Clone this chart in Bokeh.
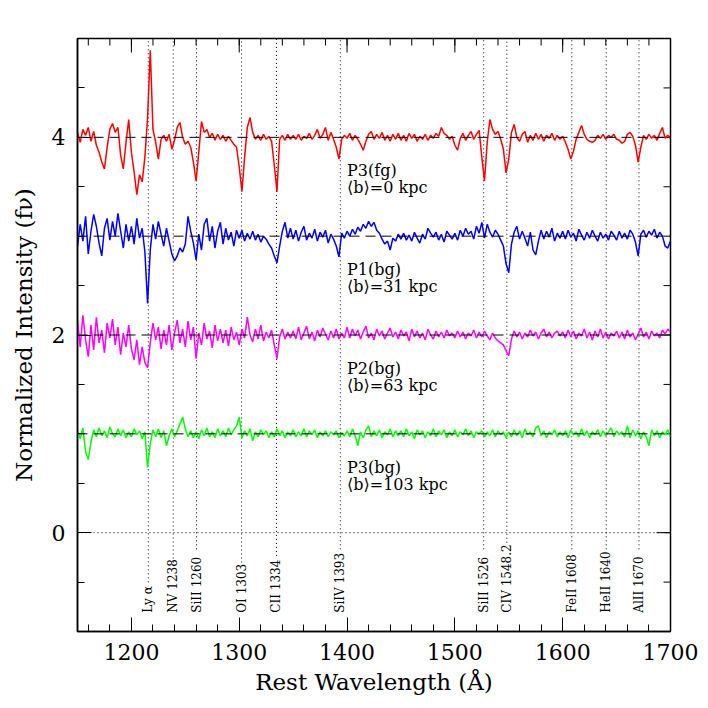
import math
from bokeh.plotting import figure
from bokeh.models import FixedTicker, Range1d, Span
from bokeh.core.properties import value
from bokeh.embed import file_html
from bokeh.resources import INLINE

# ---------------- data ----------------
WAVE_START = 1150.0   # first pixel (Angstrom)
WAVE_STEP = 2.5       # pixel size (Angstrom)

# P3 foreground (offset +3), 1150 ... 1700 A
flux_p3_fg = [
    4.05, 3.95, 4.08, 4.02, 4.10, 3.96, 4.06, 3.92, 3.85, 3.75, 3.68, 3.90, 4.08, 4.14, 4.05, 4.10, 3.82, 3.68, 3.95, 4.18,
    3.85, 3.65, 3.42, 3.62, 3.55, 3.80, 4.20, 4.88, 4.08, 3.95, 3.78, 3.98, 4.02, 3.96, 4.03, 3.88, 3.97, 4.10, 4.15, 4.00,
    3.93, 3.96, 3.90, 3.75, 3.56, 3.85, 4.16, 4.05, 4.08, 4.00, 4.04, 3.97, 4.03, 3.98, 4.02, 3.96, 4.01, 3.97, 3.93, 3.90,
    3.70, 3.45, 3.80, 4.10, 4.20, 4.05, 3.98, 4.02, 3.97, 4.03, 3.98, 4.01, 3.96, 3.72, 3.45, 3.98, 4.02, 3.97, 4.03, 3.98,
    4.02, 3.98, 4.03, 3.97, 4.01, 3.99, 4.04, 3.98, 4.02, 4.08, 3.99, 4.03, 4.10, 3.97, 4.05, 3.98, 3.90, 3.78, 3.98, 4.02,
    3.99, 4.04, 3.97, 4.02, 3.98, 3.93, 3.87, 3.96, 4.03, 4.06, 3.98, 4.03, 3.99, 4.05, 3.97, 4.02, 3.96, 4.03, 3.98, 4.04,
    3.97, 4.02, 3.96, 4.04, 3.99, 4.03, 3.96, 4.01, 3.98, 4.03, 3.97, 4.02, 3.99, 4.04, 4.01, 4.10, 4.04, 4.02, 3.98, 4.01,
    3.92, 3.87, 3.99, 4.04, 3.97, 4.02, 4.06, 3.98, 4.03, 4.07, 3.80, 3.56, 3.95, 4.18, 4.08, 4.03, 4.06, 3.98, 3.88, 3.64,
    3.78, 4.05, 4.13, 4.00, 3.96, 4.03, 4.06, 3.95, 4.02, 3.97, 4.04, 3.98, 4.03, 3.96, 4.02, 3.99, 4.04, 3.97, 4.02, 3.98,
    4.01, 3.95, 3.88, 3.78, 3.86, 3.98, 4.05, 4.12, 4.03, 3.98, 3.96, 3.95, 3.97, 4.02, 3.99, 4.03, 3.98, 4.02, 4.00, 4.03,
    3.98, 3.97, 3.94, 3.96, 4.03, 4.05, 4.01, 3.92, 3.75, 3.90, 4.02, 3.98, 4.03, 3.99, 4.02, 3.97, 4.04, 4.10, 3.99, 4.02,
    3.99,
]

# P1 background (offset +2)
flux_p1_bg = [
    2.90, 3.12, 2.95, 3.20, 2.82, 3.05, 3.22, 3.10, 2.93, 2.80, 3.08, 3.18, 2.96, 3.15, 3.00, 3.23, 3.05, 2.88, 3.12, 2.95,
    3.10, 2.92, 3.18, 2.98, 3.08, 2.84, 2.32, 2.86, 3.12, 2.97, 3.15, 3.02, 2.90, 3.08, 2.95, 2.82, 2.75, 2.80, 2.88, 2.84,
    2.92, 3.20, 3.05, 2.93, 2.76, 3.02, 2.86, 3.12, 3.18, 2.95, 3.10, 2.88, 3.05, 3.14, 2.92, 3.08, 2.96, 3.04, 2.90, 3.06,
    2.98, 3.06, 2.95, 3.03, 2.97, 3.05, 2.96, 3.02, 2.94, 3.00, 2.97, 2.92, 2.88, 2.80, 2.73, 2.90, 3.05, 3.14, 2.98, 3.08,
    2.97, 3.06, 2.95, 3.04, 3.10, 2.96, 3.03, 2.98, 3.07, 2.95, 3.04, 2.99, 3.06, 2.93, 3.02, 2.97, 2.90, 2.79, 3.03, 2.98,
    3.05, 3.00, 3.07, 3.02, 3.09, 3.05, 3.12, 3.08, 3.15, 3.10, 3.14, 3.06, 3.03, 2.97, 2.92, 2.95, 2.86, 2.98, 2.95, 3.02,
    2.97, 3.03, 2.96, 3.01, 2.95, 3.04, 2.98, 2.93, 3.02, 2.97, 3.08, 3.03, 2.99, 3.04, 2.96, 3.02, 2.94, 3.05, 3.01, 2.97,
    3.03, 2.96, 3.06, 3.00, 3.08, 3.02, 3.05, 2.97, 3.10, 3.03, 3.14, 2.98, 3.12, 3.04, 2.99, 3.06, 3.02, 2.96, 2.90, 2.72,
    2.63, 2.92, 3.04, 3.10, 2.97, 3.05, 2.98, 2.90, 3.04, 2.86, 2.81, 2.95, 3.06, 2.97, 3.05, 2.99, 3.08, 2.95, 3.03, 2.98,
    3.05, 2.97, 3.06, 2.99, 3.03, 2.95, 3.07, 3.01, 2.96, 3.04, 2.98, 3.06, 3.00, 2.95, 3.04, 2.98, 3.02, 2.96, 3.05, 3.01,
    2.96, 3.05, 2.98, 3.03, 2.97, 3.06, 3.02, 2.94, 2.80, 3.02, 3.06, 2.99, 3.05, 3.01, 3.07, 2.98, 3.04, 3.00, 2.90, 2.88,
    2.95,
]

# P2 background (offset +1)
flux_p2_bg = [
    2.15, 1.88, 2.20, 1.95, 1.78, 2.10, 1.85, 2.18, 1.92, 2.05, 1.82, 2.12, 1.97, 2.16, 1.90, 2.08, 1.80, 2.02, 1.88, 2.10,
    1.86, 1.75, 1.95, 1.70, 1.88, 1.72, 1.67, 1.92, 2.12, 1.95, 2.08, 1.86, 2.05, 1.90, 2.10, 1.85, 2.02, 2.15, 1.92, 2.06,
    1.88, 2.14, 1.95, 2.08, 1.76, 2.02, 1.90, 2.12, 1.96, 2.04, 1.87, 2.10, 1.94, 2.06, 1.92, 2.05, 1.89, 2.08, 1.95, 2.03,
    1.90, 2.06, 1.97, 2.18, 2.00, 1.93, 2.06, 1.96, 2.10, 1.94, 2.03, 1.97, 2.05, 1.90, 1.76, 1.98, 2.06, 1.96, 2.03, 1.97,
    2.04, 1.96, 2.08, 1.95, 2.02, 2.09, 1.96, 2.03, 1.94, 2.05, 1.98, 2.07, 2.01, 1.95, 2.04, 1.97, 2.06, 1.96, 2.02, 1.97,
    2.08, 1.97, 2.06, 1.99, 2.05, 1.96, 2.03, 2.09, 1.97, 2.02, 1.95, 2.06, 1.99, 2.04, 1.96, 2.02, 2.07, 1.98, 2.03, 1.96,
    2.05, 1.99, 2.03, 1.94, 2.06, 1.98, 2.04, 1.97, 2.02, 1.95, 2.06, 2.00, 1.96, 2.04, 1.98, 2.03, 1.97, 2.05, 1.99, 2.02,
    1.97, 2.04, 1.98, 2.03, 1.96, 2.02, 1.99, 2.05, 1.97, 2.03, 1.98, 2.04, 1.99, 1.95, 2.02, 1.97, 1.94, 1.92, 1.90, 1.84,
    1.79, 1.96, 2.04, 1.98, 2.03, 1.96, 2.02, 1.98, 2.05, 1.99, 2.03, 1.96, 2.02, 2.06, 1.98, 2.03, 1.97, 2.02, 2.04, 1.99,
    2.03, 1.97, 2.05, 1.98, 2.04, 1.96, 2.02, 1.99, 2.06, 1.97, 2.03, 1.95, 2.04, 1.98, 2.06, 1.97, 2.03, 1.96, 2.02, 1.99,
    2.04, 1.97, 2.03, 1.96, 2.05, 1.98, 2.02, 1.95, 2.01, 2.07, 1.98, 2.03, 1.96, 2.04, 1.99, 2.02, 1.97, 2.05, 2.01, 2.06,
    2.03,
]

# P3 background (no offset)
flux_p3_bg = [
    1.03, 0.95, 1.06, 0.82, 0.74, 0.92, 1.04, 0.97, 1.06, 0.98, 1.03, 0.96, 1.07, 1.00, 0.97, 1.05, 0.98, 1.04, 0.96, 1.02,
    0.97, 1.05, 0.99, 1.03, 0.95, 1.02, 0.66, 0.90, 1.04, 0.97, 1.05, 0.96, 1.03, 0.88, 0.98, 1.05, 0.97, 1.03, 1.10, 1.17,
    1.05, 0.97, 1.03, 0.96, 1.02, 0.95, 1.04, 0.98, 1.06, 0.97, 1.02, 0.96, 1.05, 0.98, 1.03, 0.97, 1.06, 0.99, 1.04, 1.08,
    1.17, 0.96, 1.03, 0.98, 1.05, 0.93, 1.02, 0.97, 1.04, 0.99, 1.03, 0.96, 1.02, 0.97, 1.05, 0.98, 1.03, 0.96, 1.02, 0.98,
    1.04, 0.97, 1.02, 0.98, 1.05, 0.97, 1.03, 0.99, 1.04, 0.96, 1.02, 0.98, 1.03, 0.97, 1.02, 0.99, 1.03, 0.96, 1.01, 0.98,
    1.03, 0.97, 1.05, 0.98, 0.88, 1.02, 0.96, 1.04, 1.08, 0.97, 1.03, 0.98, 1.04, 0.96, 1.02, 0.99, 1.05, 0.97, 1.03, 0.98,
    1.03, 0.97, 1.05, 0.98, 1.02, 0.95, 1.04, 0.99, 1.03, 0.96, 1.02, 0.98, 1.05, 0.97, 1.03, 0.99, 1.04, 0.96, 1.02, 0.98,
    1.04, 0.97, 1.02, 0.99, 1.05, 0.98, 1.03, 0.96, 1.02, 1.00, 1.03, 0.97, 1.02, 0.98, 1.04, 0.97, 1.03, 0.99, 1.02, 0.96,
    1.02, 0.97, 1.04, 0.98, 1.03, 0.96, 1.05, 0.99, 1.02, 0.97, 1.06, 1.08, 0.98, 1.03, 0.96, 1.02, 0.99, 1.04, 0.97, 1.02,
    0.98, 1.03, 0.96, 1.04, 0.99, 1.02, 0.97, 1.05, 0.98, 1.03, 0.96, 1.02, 0.99, 1.04, 0.97, 1.03, 0.98, 1.02, 1.06, 0.97,
    1.03, 0.99, 1.02, 0.97, 1.08, 0.96, 1.04, 0.98, 1.03, 0.95, 1.02, 0.97, 0.88, 1.04, 0.98, 1.03, 0.96, 1.02, 0.99, 1.04,
    0.97,
]

series_flux = [flux_p3_fg, flux_p1_bg, flux_p2_bg, flux_p3_bg]
continuum_levels = [4, 3, 2, 1]
series_colors = ["#ff0000", "#0000ff", "#ff00ff", "#00ff00"]
series_names = ["P3(fg)", "P1(bg)", "P2(bg)", "P3(bg)"]
impact_labels = ["\u27e8b\u27e9=0 kpc", "\u27e8b\u27e9=31 kpc", "\u27e8b\u27e9=63 kpc", "\u27e8b\u27e9=103 kpc"]

line_waves = [1215.67, 1238.82, 1260.42, 1302.17, 1334.53, 1393.76, 1526.71, 1548.2, 1608.45, 1640.4, 1670.79]
line_names = ["Ly \u03b1", "NV 1238", "SiII 1260", "OI 1303", "CII 1334", "SiIV 1393",
              "SiII 1526", "CIV 1548.2", "FeII 1608", "HeII 1640", "AlII 1670"]

x_major_ticks = [1200, 1300, 1400, 1500, 1600, 1700]
y_major_ticks = [0, 2, 4]

# ---------------- figure ----------------
FONT = "DejaVu Serif"
X0, X1 = 1150, 1700
Y0, Y1 = -1, 5
FRAME_W, FRAME_H = 593, 593

p = figure(width=708, height=708, x_range=Range1d(X0, X1), y_range=Range1d(Y0, Y1),
           output_backend="svg", toolbar_location=None,
           min_border_left=77, min_border_right=38, min_border_top=38, min_border_bottom=77)
p.background_fill_color = "white"
p.border_fill_color = "white"
p.xgrid.visible = False
p.ygrid.visible = False
p.outline_line_color = "black"
p.outline_line_width = 1.5

x_minor = [X0 + 10 + 20 * i for i in range(28)]
y_minor = [Y0 + 0.5 * i for i in range(13)]
xt = FixedTicker(ticks=x_major_ticks, minor_ticks=x_minor)
yt = FixedTicker(ticks=y_major_ticks, minor_ticks=y_minor)

MAJOR_LEN, MINOR_LEN = 14, 7


def style_axis(ax):
    ax.axis_line_color = "black"
    ax.axis_line_width = 1.5
    ax.major_tick_in = MAJOR_LEN
    ax.major_tick_out = 0
    ax.minor_tick_in = MINOR_LEN
    ax.minor_tick_out = 0
    ax.major_tick_line_color = "black"
    ax.minor_tick_line_color = "black"
    ax.major_tick_line_width = 1
    ax.minor_tick_line_width = 1
    ax.major_label_text_font = FONT
    ax.major_label_text_font_size = "22px"
    ax.major_label_text_color = "black"
    ax.major_label_standoff = 12
    ax.axis_label_text_font = FONT
    ax.axis_label_text_font_size = "23px"
    ax.axis_label_text_font_style = "normal"
    ax.axis_label_text_color = "black"


xa = p.xaxis[0]
xa.ticker = xt
style_axis(xa)
xa.axis_label = "Rest Wavelength (\u00c5)"
xa.axis_label_standoff = 6

ya = p.yaxis[0]
ya.ticker = yt
style_axis(ya)
ya.axis_label = "Normalized Intensity (f\u03bd)"
ya.axis_label_standoff = 12

# mirrored inward ticks on the top and right frame edges
dy_major = MAJOR_LEN * (Y1 - Y0) / FRAME_H
dy_minor = MINOR_LEN * (Y1 - Y0) / FRAME_H
dx_major = MAJOR_LEN * (X1 - X0) / FRAME_W
dx_minor = MINOR_LEN * (X1 - X0) / FRAME_W
p.segment(x0=x_major_ticks, y0=[Y1] * len(x_major_ticks), x1=x_major_ticks,
          y1=[Y1 - dy_major] * len(x_major_ticks), line_color="black", line_width=1)
p.segment(x0=x_minor, y0=[Y1] * len(x_minor), x1=x_minor,
          y1=[Y1 - dy_minor] * len(x_minor), line_color="black", line_width=1)
p.segment(x0=[X1] * len(y_major_ticks), y0=y_major_ticks, x1=[X1 - dx_major] * len(y_major_ticks),
          y1=y_major_ticks, line_color="black", line_width=1)
p.segment(x0=[X1] * len(y_minor), y0=y_minor, x1=[X1 - dx_minor] * len(y_minor),
          y1=y_minor, line_color="black", line_width=1)

# zero level (dotted)
p.add_layout(Span(location=0, dimension="width", line_color="black",
                  line_dash="1 3", line_width=1))

# line identification: labels at the bottom, dotted markers up to the top
label_base = -0.81
px_per_unit = FRAME_H / (Y1 - Y0)
label_tops = [label_base + (len(s) * 6.6 + 4) / px_per_unit for s in line_names]
p.segment(x0=line_waves, y0=label_tops, x1=line_waves, y1=[Y1] * len(line_waves),
          line_color="black", line_dash="1 3", line_width=1)
p.text(x=line_waves, y=[label_base] * len(line_waves), text=line_names,
       angle=math.pi / 2, text_align="left", text_baseline="middle",
       text_font=value(FONT), text_font_size="12px", text_color="black")

# spectra
n = len(flux_p3_fg)
wave = [WAVE_START + WAVE_STEP * i for i in range(n)]
for flux, col in zip(series_flux, series_colors):
    p.line(wave, flux, line_color=col, line_width=1.5)

# continuum levels (dashed)
for c in continuum_levels:
    p.add_layout(Span(location=c, dimension="width", line_color="black",
                      line_dash="10 6", line_width=1))

# sightline labels
name_x = 1400
p.text(x=[name_x] * 4, y=[c - 0.34 for c in continuum_levels], text=series_names,
       text_align="left", text_baseline="alphabetic",
       text_font=value(FONT), text_font_size="16px", text_color="black")
p.text(x=[name_x] * 4, y=[c - 0.51 for c in continuum_levels], text=impact_labels,
       text_align="left", text_baseline="alphabetic",
       text_font=value(FONT), text_font_size="16px", text_color="black")

open("out.html", "w").write(file_html(p, INLINE))
